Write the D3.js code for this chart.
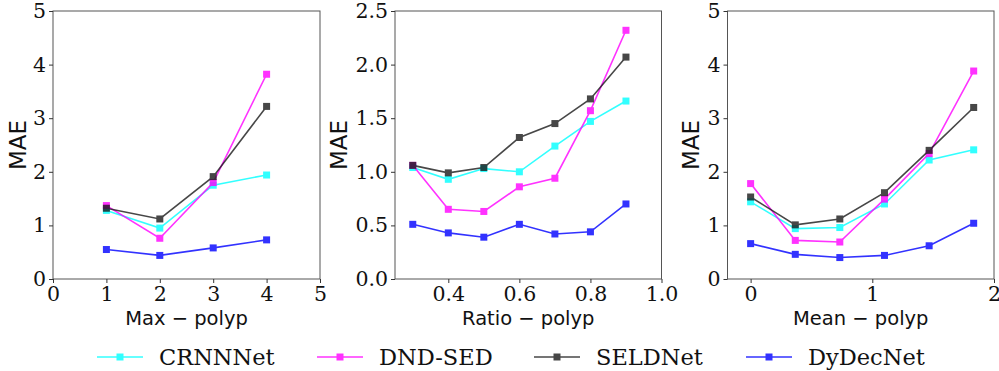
<!DOCTYPE html>
<html>
<head>
<meta charset="utf-8">
<script src="https://cdn.jsdelivr.net/npm/d3@7"></script>
<style>
  body { margin: 0; background: #fff; }
  svg { display: block; }
</style>
</head>
<body>
<svg id="chart" width="999" height="371"></svg>
<script>
// ---- data ----
const seriesNames = ["CRNNNet", "DND-SED", "SELDNet", "DyDecNet"];

const xMax = [1, 2, 3, 4];
const maxCRNN = [1.28, 0.95, 1.75, 1.94];
const maxDND = [1.37, 0.76, 1.80, 3.82];
const maxSELD = [1.32, 1.12, 1.91, 3.22];
const maxDyDec = [0.55, 0.44, 0.58, 0.73];

const xRatio = [0.3, 0.4, 0.5, 0.6, 0.7, 0.8, 0.9];
const ratioCRNN = [1.04, 0.93, 1.03, 1.00, 1.24, 1.47, 1.66];
const ratioDND = [1.06, 0.65, 0.63, 0.86, 0.94, 1.57, 2.32];
const ratioSELD = [1.06, 0.99, 1.04, 1.32, 1.45, 1.68, 2.07];
const ratioDyDec = [0.51, 0.43, 0.39, 0.51, 0.42, 0.44, 0.70];

const xMean = [0, 0.367, 0.733, 1.1, 1.467, 1.833];
const meanCRNN = [1.44, 0.94, 0.96, 1.40, 2.22, 2.41];
const meanDND = [1.78, 0.72, 0.69, 1.49, 2.34, 3.88];
const meanSELD = [1.53, 1.01, 1.12, 1.61, 2.40, 3.20];
const meanDyDec = [0.66, 0.46, 0.40, 0.44, 0.62, 1.04];

const maxTicksX = [0, 1, 2, 3, 4, 5];
const maxTicksY = [0, 1, 2, 3, 4, 5];
const ratioTicksX = [0.4, 0.6, 0.8, 1.0];
const ratioTicksY = [0, 0.5, 1.0, 1.5, 2.0, 2.5];
const meanTicksX = [0, 1, 2];
const meanTicksY = [0, 1, 2, 3, 4, 5];

const colors = ["#00ffff", "#ff00ff", "#1a1a1a", "#0000ff"];

const svg = d3.select("#chart");
const plotTop = 11, plotBottom = 279;

const panels = [
  { left: 53, right: 320, xd: [0, 5], yd: [0, 5], x: xMax, ys: [maxCRNN, maxDND, maxSELD, maxDyDec],
    xt: maxTicksX, yt: maxTicksY, xf: d3.format("d"), yf: d3.format("d"), label: "Max \u2212 polyp", maeX: 26 },
  { left: 395, right: 661.5, xd: [0.25, 1.0], yd: [0, 2.5], x: xRatio, ys: [ratioCRNN, ratioDND, ratioSELD, ratioDyDec],
    xt: ratioTicksX, yt: ratioTicksY, xf: d3.format(".1f"), yf: d3.format(".1f"), label: "Ratio \u2212 polyp", maeX: 347 },
  { left: 727.5, right: 994, xd: [-0.19, 2.0], yd: [0, 5], x: xMean, ys: [meanCRNN, meanDND, meanSELD, meanDyDec],
    xt: meanTicksX, yt: meanTicksY, xf: d3.format("d"), yf: d3.format("d"), label: "Mean \u2212 polyp", maeX: 699 }
];

panels.forEach(p => {
  const x = d3.scaleLinear().domain(p.xd).range([p.left, p.right]);
  const y = d3.scaleLinear().domain(p.yd).range([plotBottom, plotTop]);
  const g = svg.append("g");

  // frame
  g.append("rect")
    .attr("x", p.left).attr("y", plotTop)
    .attr("width", p.right - p.left).attr("height", plotBottom - plotTop)
    .attr("fill", "none").attr("stroke", "#555").attr("stroke-width", 1);

  const styleAxis = sel => {
    sel.select(".domain").remove();
    sel.selectAll(".tick line").attr("stroke", "#333");
    sel.selectAll(".tick text")
      .attr("fill", "#111")
      .style("font-family", "DejaVu Serif")
      .style("font-size", "20.5px");
  };

  g.append("g")
    .attr("transform", `translate(0,${plotBottom})`)
    .call(d3.axisBottom(x).tickValues(p.xt).tickFormat(p.xf).tickSize(4).tickPadding(3).tickSizeOuter(0))
    .call(styleAxis);

  g.append("g")
    .attr("transform", `translate(${p.left},0)`)
    .call(d3.axisLeft(y).tickValues(p.yt).tickFormat(p.yf).tickSize(4).tickPadding(3).tickSizeOuter(0))
    .call(styleAxis);

  g.append("text")
    .attr("x", (p.left + p.right) / 2).attr("y", 325)
    .attr("text-anchor", "middle")
    .style("font-family", "DejaVu Sans").style("font-size", "19.5px")
    .attr("fill", "#111")
    .text(p.label);

  g.append("text")
    .attr("transform", `translate(${p.maeX},${(plotTop + plotBottom) / 2}) rotate(-90)`)
    .attr("text-anchor", "middle")
    .style("font-family", "DejaVu Sans").style("font-size", "23px")
    .attr("fill", "#111")
    .text("MAE");

  const line = d3.line().x((d, i) => x(p.x[i])).y(d => y(d));
  p.ys.forEach((vals, k) => {
    const s = g.append("g").attr("opacity", 0.8);
    s.append("path").datum(vals)
      .attr("d", line).attr("fill", "none")
      .attr("stroke", colors[k]).attr("stroke-width", 1.6);
    s.selectAll("rect").data(vals).join("rect")
      .attr("x", (d, i) => x(p.x[i]) - 3.5)
      .attr("y", d => y(d) - 3.5)
      .attr("width", 7).attr("height", 7)
      .attr("fill", colors[k]);
  });
});

// legend
const legendX = [97, 317, 534, 746];
seriesNames.forEach((name, k) => {
  const lg = svg.append("g").attr("transform", `translate(${legendX[k]},357)`);
  const s = lg.append("g").attr("opacity", 0.8);
  s.append("line").attr("x1", 0).attr("x2", 46).attr("y1", 0).attr("y2", 0)
    .attr("stroke", colors[k]).attr("stroke-width", 1.6);
  s.append("rect").attr("x", 23 - 3.5).attr("y", -3.5).attr("width", 7).attr("height", 7)
    .attr("fill", colors[k]);
  lg.append("text").attr("x", 62).attr("y", 8)
    .style("font-family", "DejaVu Serif").style("font-size", "22.5px")
    .attr("fill", "#111")
    .text(name);
});
</script>
</body>
</html>
